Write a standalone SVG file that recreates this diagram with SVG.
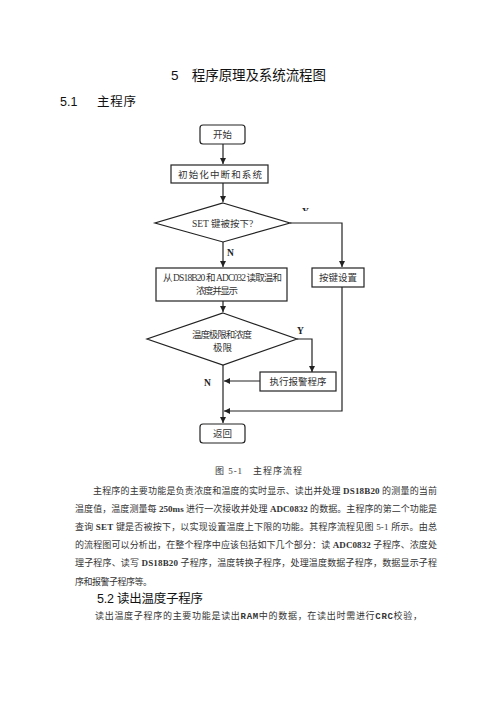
<svg xmlns="http://www.w3.org/2000/svg" width="496" height="702" viewBox="0 0 496 702">
<style>
.box{fill:#fff;stroke:#222;stroke-width:1.2}
.ln{fill:none;stroke:#222;stroke-width:1.2}
.fc{font-family:"Liberation Serif","Noto Sans CJK SC",serif;font-size:9.5px;fill:#333}
.body{font-family:"Liberation Serif","Noto Sans CJK SC",serif;font-size:9px;fill:#333}
.hd{font-family:"Liberation Sans","Noto Sans CJK SC",sans-serif;fill:#111}
.lab{font-family:"Liberation Serif",serif;font-size:9.5px;font-weight:bold;fill:#222}
</style>
<defs>
<marker id="ah" viewBox="0 0 10 10" refX="10" refY="5" markerWidth="6" markerHeight="6" markerUnits="userSpaceOnUse" orient="auto">
<path d="M0,0 L10,5 L0,10 z" fill="#222"/>
</marker>
<clipPath id="yclip"><rect x="300" y="205" width="14" height="6"/></clipPath>
</defs>
<rect width="496" height="702" fill="#fff"/>

<text class="hd" x="171" y="80" font-size="13.5" textLength="155" lengthAdjust="spacing">5　程序原理及系统流程图</text>
<text class="hd" x="60" y="106" font-size="12.5">5.1</text>
<text class="hd" x="97" y="106" font-size="12.5" textLength="39" lengthAdjust="spacing">主程序</text>

<g id="connectors">
<path class="ln" d="M223,144 V164" marker-end="url(#ah)"/>
<path class="ln" d="M223,183 V202" marker-end="url(#ah)"/>
<path class="ln" d="M223,242 V267" marker-end="url(#ah)"/>
<path class="ln" d="M290,223 H342 V267" marker-end="url(#ah)"/>
<path class="ln" d="M223,301 V312" marker-end="url(#ah)"/>
<path class="ln" d="M297,339 H312 V372" marker-end="url(#ah)"/>
<path class="ln" d="M260,381 H224" marker-end="url(#ah)"/>
<path class="ln" d="M342,287 V411 H224" marker-end="url(#ah)"/>
<path class="ln" d="M223,365 V423" marker-end="url(#ah)"/>
<text class="lab" x="302" y="215" clip-path="url(#yclip)">Y</text>
<text class="lab" x="227" y="256">N</text>
<text class="lab" x="297" y="334">Y</text>
<text class="lab" x="204" y="386">N</text>
</g>

<g id="start">
<rect class="box" x="200" y="125" width="45" height="19" rx="3"/>
<text class="fc" x="222.5" y="138" text-anchor="middle">开始</text>
</g>
<g id="init">
<rect class="box" x="171" y="165" width="97" height="18"/>
<text class="fc" x="178" y="177.5" textLength="84" lengthAdjust="spacing">初始化中断和系统</text>
</g>
<g id="setkey">
<path class="box" d="M223,203 L290,223 L223,242 L155,223 Z"/>
<text class="fc" x="192" y="226.5">SET 键被按下?</text>
</g>
<g id="read">
<rect class="box" x="156" y="268" width="131" height="33"/>
<text class="fc" x="163" y="281" textLength="119" lengthAdjust="spacing">从 DS18B20 和 ADC032 读取温和</text>
<text class="fc" x="196" y="294" textLength="42" lengthAdjust="spacing">浓度并显示</text>
</g>
<g id="keyset">
<rect class="box" x="312" y="268" width="52" height="19"/>
<text class="fc" x="338" y="281" text-anchor="middle">按键设置</text>
</g>
<g id="limit">
<path class="box" d="M223,313 L297,339 L223,365 L147,339 Z"/>
<text class="fc" x="192" y="338" textLength="60" lengthAdjust="spacing">温度极限和浓度</text>
<text class="fc" x="213" y="350.5">极限</text>
</g>
<g id="alarm">
<rect class="box" x="260" y="372" width="76" height="19"/>
<text class="fc" x="298" y="385" text-anchor="middle">执行报警程序</text>
</g>
<g id="return">
<rect class="box" x="200" y="424" width="45" height="19" rx="3"/>
<text class="fc" x="222.5" y="437" text-anchor="middle">返回</text>
</g>

<text class="body" x="215" y="474" font-size="10" textLength="87" lengthAdjust="spacing">图 5-1　主程序流程</text>
<text class="body" x="93" y="494" textLength="344" lengthAdjust="spacing">主程序的主要功能是负责浓度和温度的实时显示、读出并处理 <tspan font-weight="bold">DS18B20</tspan> 的测量的当前</text>
<text class="body" x="75" y="512" textLength="362" lengthAdjust="spacing">温度值，温度测量每 <tspan font-weight="bold">250ms</tspan> 进行一次接收并处理 <tspan font-weight="bold">ADC0832</tspan> 的数据。主程序的第二个功能是</text>
<text class="body" x="75" y="530" textLength="362" lengthAdjust="spacing">查询 <tspan font-weight="bold">SET</tspan> 键是否被按下，以实现设置温度上下限的功能。其程序流程见图 5-1 所示。由总</text>
<text class="body" x="75" y="548" textLength="362" lengthAdjust="spacing">的流程图可以分析出，在整个程序中应该包括如下几个部分：读 <tspan font-weight="bold">ADC0832</tspan> 子程序、浓度处</text>
<text class="body" x="75" y="566" textLength="362" lengthAdjust="spacing">理子程序、读写 <tspan font-weight="bold">DS18B20</tspan> 子程序，温度转换子程序，处理温度数据子程序，数据显示子程</text>
<text class="body" x="75" y="585" textLength="77" lengthAdjust="spacing">序和报警子程序等。</text>

<text class="hd" x="97" y="603" font-size="12.5" textLength="106" lengthAdjust="spacing">5.2 读出温度子程序</text>
<text class="body" x="95" y="619" font-size="10" textLength="327" lengthAdjust="spacing">读出温度子程序的主要功能是读出<tspan font-family="Liberation Mono" font-weight="bold">RAM</tspan>中的数据，在读出时需进行<tspan font-family="Liberation Mono" font-weight="bold">CRC</tspan>校验，</text>
</svg>
